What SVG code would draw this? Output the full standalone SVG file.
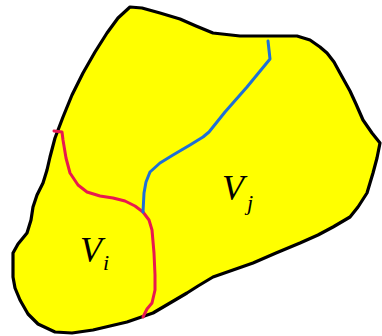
<svg xmlns="http://www.w3.org/2000/svg" width="382" height="336" viewBox="0 0 382 336">
<style>
.region{fill:#ffff00;stroke:#000;stroke-width:3.2;stroke-linejoin:round}
.line{fill:none;stroke-width:3;stroke-linecap:round;stroke-linejoin:round}
.lbl{font-family:"Liberation Serif",serif;font-style:italic;fill:#000}
</style>
<rect width="382" height="336" fill="#fff"/>
<g id="region">
<path class="region" d="M130,7 L142,8 L160,13 L180,19 L196,26 L213,33 L240,36 L270,36 L297,36 L310,40 L320,47 L327,53 L334,62 L340,73 L345,82 L350,91 L356,104 L363,120 L372,133 L380,143 L377,158 L373,173 L367,193 L358,207 L350,217 L333,227 L318,235 L300,243 L276,253 L253,263 L233,270 L213,277 L198,286 L187,293 L170,303 L153,313 L127,322 L110,326 L93,330 L72,333 L55,332 L38,324 L28,314 L20,300 L15,288 L13,277 L13,263 L13,253 L18,244 L27,233 L31,220 L33,207 L37,195 L43,183 L47,170 L50,157 L55,138 L63,117 L72,95 L83,73 L95,52 L107,33 L118,18 Z"/>
</g>
<g id="connectors">
<path class="line" stroke="#e8194f" d="M54,131 L62,132 L63,140 L66,158 L70,173 L78,185 L87,192 L100,196 L113,198 L125,201 L135,206 L143,212 L149,220 L152,230 L154,253 L155,275 L155,290 L152,303 L147,309 L143,317"/>
<path class="line" stroke="#1e6fd6" d="M268,41 L270,59 L247,87 L225,112 L213,127 L209,132 L203,137 L190,145 L173,155 L160,163 L150,172 L146,182 L144,193 L143,212"/>
</g>
<g id="vi"><text class="lbl" x="80" y="262" font-size="36">V</text><text class="lbl" x="103" y="270" font-size="22">i</text></g>
<g id="vj"><text class="lbl" x="222" y="200" font-size="36">V</text><text class="lbl" x="247" y="210" font-size="22">j</text></g>
</svg>
